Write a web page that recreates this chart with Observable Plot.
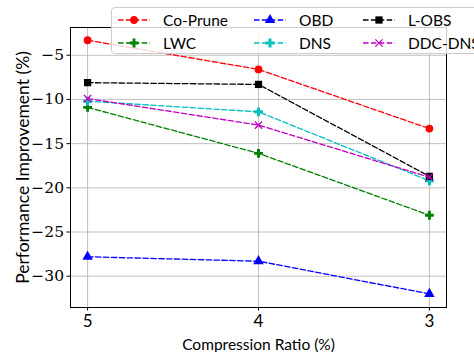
<!DOCTYPE html>
<html>
<head>
<meta charset="utf-8">
<script src="https://cdn.jsdelivr.net/npm/d3@7"></script>
<script src="https://cdn.jsdelivr.net/npm/@observablehq/plot@0.6"></script>
<style>
  html, body { margin: 0; padding: 0; background: #fff; overflow: hidden; width: 474px; height: 352px; }
  #wrap { position: relative; width: 474px; height: 352px; }
  #legend { position: absolute; left: 111px; top: 7px; width: 400px; height: 47px; border: 1px solid #cccccc; border-radius: 4px; background: rgba(255,255,255,0.8); box-sizing: border-box; }
  .entry { position: absolute; display: flex; align-items: center; font-family: "Lato", sans-serif; font-size: 15.5px; color: #000; white-space: nowrap; }
  .entry svg { margin-right: 13px; }
  g[aria-label="y-axis tick label"] text { font-family: "DejaVu Serif", serif !important; font-size: 15.5px !important; }
  g[aria-label="x-axis tick label"] text { font-family: "Lato", sans-serif !important; font-size: 17px !important; }
</style>
</head>
<body>
<div id="wrap"></div>
<script>
// Data
const ratios = [5, 4, 3];
const seriesNames = ["Co-Prune", "LWC", "OBD", "DNS", "L-OBS", "DDC-DNS"];
const coPrune = [-3.3, -6.6, -13.3];
const lwc = [-10.9, -16.1, -23.1];
const obd = [-27.8, -28.3, -32.0];
const dns = [-10.2, -11.4, -19.2];
const lobs = [-8.1, -8.3, -18.7];
const ddcDns = [-9.9, -12.9, -18.8];
const yTicks = [-30, -25, -20, -15, -10, -5];

const seriesValues = [coPrune, lwc, obd, dns, lobs, ddcDns];
const colors = ["#ff0000", "#008000", "#0000ff", "#00bfbf", "#000000", "#bf00bf"];
const symbols = ["circle", "cross", "triangle", "cross", "square", "times"];
const symbolR = [3.9, 3.7, 3.9, 3.7, 4.1, 3.4];

const rows = [];
seriesNames.forEach((name, i) => {
  ratios.forEach((r, j) => rows.push({series: name, ratio: r, value: seriesValues[i][j]}));
});

const marks = [
  Plot.gridY(yTicks, {stroke: "#b0b0b0", strokeOpacity: 1, strokeWidth: 0.8}),
  Plot.gridX(ratios, {stroke: "#b0b0b0", strokeOpacity: 1, strokeWidth: 0.8})
];
seriesNames.forEach((name, i) => {
  const d = rows.filter(r => r.series === name);
  marks.push(Plot.line(d, {x: "ratio", y: "value", stroke: colors[i], strokeWidth: 1.3, strokeDasharray: "5.5,2.4"}));
  const stroked = symbols[i] === "times";
  marks.push(Plot.dot(d, {x: "ratio", y: "value", symbol: () => symbols[i], r: symbolR[i],
    fill: stroked ? "none" : colors[i], stroke: stroked ? colors[i] : "none", strokeWidth: stroked ? 1.3 : 0}));
});
marks.push(Plot.frame({stroke: "#000", strokeWidth: 1}));
marks.push(Plot.axisY(yTicks, {tickSize: 3.5, tickPadding: 3, tickFormat: d => String(d).replace("-", "\u2212"),
  fontFamily: "DejaVu Serif", fontSize: 15.5, label: null}));
marks.push(Plot.axisX(ratios, {tickSize: 3.5, tickPadding: 4, tickFormat: d => String(d),
  fontFamily: "Lato", fontSize: 17, label: null}));
marks.push(Plot.axisY(yTicks, {tickSize: 0, text: null, fontFamily: "Lato", fontSize: 17.5,
  label: "Performance Improvement (%)", labelAnchor: "center", labelArrow: "none", labelOffset: 54}));
marks.push(Plot.axisX(ratios, {tickSize: 0, text: null, fontFamily: "Lato", fontSize: 15.5,
  label: "Compression Ratio (%)", labelAnchor: "center", labelArrow: "none", labelOffset: 42}));

const chart = Plot.plot({
  width: 474,
  height: 352,
  marginLeft: 70,
  marginRight: 28,
  marginTop: 27,
  marginBottom: 45,
  style: {background: "white", color: "#000", overflow: "visible"},
  x: {type: "linear", domain: [5.1, 2.9]},
  y: {domain: [-33.54, -1.86]},
  symbol: {type: "identity"},
  marks
});

const wrap = document.getElementById("wrap");
wrap.appendChild(chart);

// Legend
const legend = document.createElement("div");
legend.id = "legend";
wrap.appendChild(legend);
const colLeft = [6, 142, 251];
const rowTop = [12, 35];
seriesNames.forEach((name, i) => {
  const col = Math.floor(i / 2), row = i % 2;
  const e = document.createElement("div");
  e.className = "entry";
  e.style.left = colLeft[col] + "px";
  e.style.top = (rowTop[row] - 10) + "px";
  e.style.height = "20px";
  const svg = d3.create("svg").attr("width", 32).attr("height", 20);
  svg.append("line").attr("x1", 0).attr("x2", 32).attr("y1", 10).attr("y2", 10)
    .attr("stroke", colors[i]).attr("stroke-width", 1.3).attr("stroke-dasharray", "5.5,2.4");
  const symMap = {circle: d3.symbolCircle, cross: d3.symbolCross, triangle: d3.symbolTriangle, square: d3.symbolSquare, times: d3.symbolTimes};
  const stroked = symbols[i] === "times";
  svg.append("path").attr("transform", "translate(16,10)")
    .attr("d", d3.symbol(symMap[symbols[i]], Math.PI * symbolR[i] * symbolR[i])())
    .attr("fill", stroked ? "none" : colors[i]).attr("stroke", stroked ? colors[i] : "none").attr("stroke-width", 1.3);
  e.appendChild(svg.node());
  const t = document.createElement("span");
  t.textContent = name;
  e.appendChild(t);
  legend.appendChild(e);
});
</script>
</body>
</html>
